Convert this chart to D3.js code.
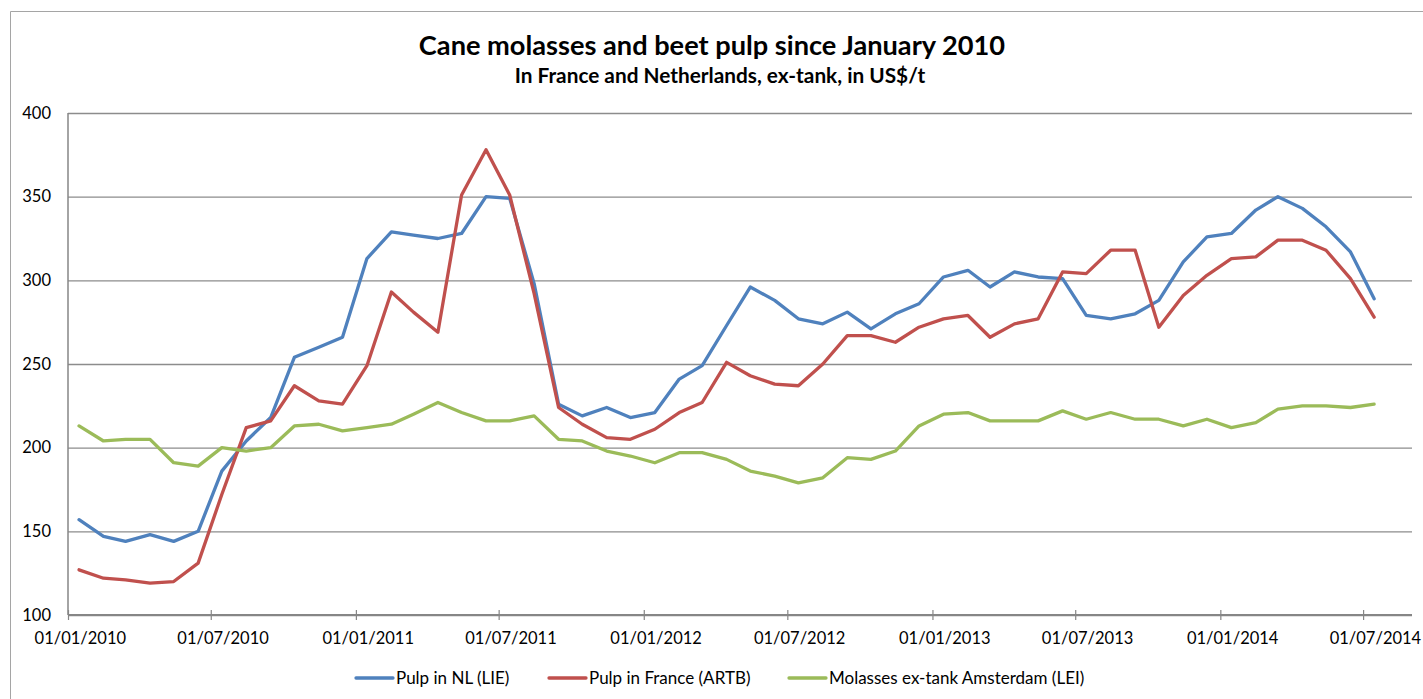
<!DOCTYPE html>
<html>
<head>
<meta charset="utf-8">
<script src="https://cdn.jsdelivr.net/npm/d3@7/dist/d3.min.js"></script>
<style>
  html, body { margin: 0; padding: 0; background: #ffffff; }
  svg { display: block; font-family: Lato, "Open Sans", sans-serif; }
</style>
</head>
<body>
<svg id="chart" width="1423" height="699"></svg>
<script>
// Monthly observations, January 2010 to July 2014 (plotted mid-month)
const months = [
  "2010-01","2010-02","2010-03","2010-04","2010-05","2010-06","2010-07","2010-08","2010-09","2010-10","2010-11","2010-12",
  "2011-01","2011-02","2011-03","2011-04","2011-05","2011-06","2011-07","2011-08","2011-09","2011-10","2011-11","2011-12",
  "2012-01","2012-02","2012-03","2012-04","2012-05","2012-06","2012-07","2012-08","2012-09","2012-10","2012-11","2012-12",
  "2013-01","2013-02","2013-03","2013-04","2013-05","2013-06","2013-07","2013-08","2013-09","2013-10","2013-11","2013-12",
  "2014-01","2014-02","2014-03","2014-04","2014-05","2014-06","2014-07"
];

// Pulp in NL (LIE), US$/t
const pulpNL = [
  157, 147, 144, 148, 144, 150, 186, 204, 218, 254, 260, 266,
  313, 329, 327, 325, 328, 350, 349, 298, 226, 219, 224, 218,
  221, 241, 249, 273, 296, 288, 277, 274, 281, 271, 280, 286,
  302, 306, 296, 305, 302, 301, 279, 277, 280, 288, 311, 326,
  328, 342, 350, 343, 332, 317, 289
];

// Pulp in France (ARTB), US$/t
const pulpFR = [
  127, 122, 121, 119, 120, 131, 172, 212, 216, 237, 228, 226,
  249, 293, 281, 269, 351, 378, 351, 292, 224, 214, 206, 205,
  211, 221, 227, 251, 243, 238, 237, 250, 267, 267, 263, 272,
  277, 279, 266, 274, 277, 305, 304, 318, 318, 272, 291, 303,
  313, 314, 324, 324, 318, 301, 278
];

// Molasses ex-tank Amsterdam (LEI), US$/t
const molasses = [
  213, 204, 205, 205, 191, 189, 200, 198, 200, 213, 214, 210,
  212, 214, 220, 227, 221, 216, 216, 219, 205, 204, 198, 195,
  191, 197, 197, 193, 186, 183, 179, 182, 194, 193, 198, 213,
  220, 221, 216, 216, 216, 222, 217, 221, 217, 217, 213, 217,
  212, 215, 223, 225, 225, 224, 226
];

const seriesNames = ["Pulp in NL (LIE)", "Pulp in France (ARTB)", "Molasses ex-tank Amsterdam (LEI)"];
const seriesColors = ["#4F81BD", "#C0504D", "#9BBB59"];
const yTicks = [100, 150, 200, 250, 300, 350, 400];
const axisStart = "2010-01-01";
const axisEnd = "2014-09-01";
const titleText = "Cane molasses and beet pulp since January 2010";
const subtitleText = "In France and Netherlands, ex-tank, in US$/t";

const svg = d3.select("#chart");
const W = 1423, H = 699;
const plot = { left: 68, right: 1412, top: 113, bottom: 615 };

const parseMonth = d3.timeParse("%Y-%m");
const parseDay = d3.timeParse("%Y-%m-%d");
const dates = months.map(m => d3.timeDay.offset(parseMonth(m), 14));

const x = d3.scaleTime()
  .domain([parseDay(axisStart), parseDay(axisEnd)])
  .range([plot.left, plot.right]);
const y = d3.scaleLinear()
  .domain([d3.min(yTicks), d3.max(yTicks)])
  .range([plot.bottom, plot.top]);

// Outer chart frame
svg.append("path")
  .attr("d", `M10.5,${H} V11.5 H${W}`)
  .attr("fill", "none")
  .attr("stroke", "#a5a5a5")
  .attr("stroke-width", 1);

// Titles
svg.append("text")
  .attr("x", 712).attr("y", 55)
  .attr("text-anchor", "middle")
  .attr("font-weight", "bold")
  .attr("font-size", 27.2)
  .attr("fill", "#000")
  .text(titleText);
svg.append("text")
  .attr("x", 720).attr("y", 83)
  .attr("text-anchor", "middle")
  .attr("font-weight", "bold")
  .attr("font-size", 20.8)
  .attr("fill", "#000")
  .text(subtitleText);

// Horizontal gridlines and y labels
const yAxis = d3.axisLeft(y).tickValues(yTicks).tickSize(-(plot.right - plot.left)).tickPadding(17);
const gy = svg.append("g")
  .attr("transform", `translate(${plot.left},0)`)
  .call(yAxis);
gy.select(".domain").remove();
gy.selectAll(".tick line").attr("stroke", "#8c8c8c").attr("stroke-width", 1.3);
gy.selectAll(".tick text")
  .attr("font-family", "Lato, sans-serif")
  .attr("font-size", 16.5)
  .attr("fill", "#000");

// Left axis line
svg.append("line")
  .attr("x1", plot.left).attr("x2", plot.left)
  .attr("y1", plot.top).attr("y2", plot.bottom)
  .attr("stroke", "#868686").attr("stroke-width", 1.5);

// Bottom date axis with crossing ticks; labels sit half a month right of each tick
const xAxis = d3.axisBottom(x)
  .ticks(d3.timeMonth.every(6))
  .tickFormat(d3.timeFormat("%d/%m/%Y"))
  .tickSize(0)
  .tickPadding(17);
const gx = svg.append("g")
  .attr("transform", `translate(0,${plot.bottom})`)
  .call(xAxis);
gx.select(".domain")
  .attr("d", `M${plot.left},0H${plot.right}`)
  .attr("stroke", "#868686").attr("stroke-width", 2);
gx.selectAll(".tick").append("line")
  .attr("y1", -5).attr("y2", 5)
  .attr("stroke", "#868686").attr("stroke-width", 1.2);
gx.selectAll(".tick text")
  .attr("font-family", "Lato, sans-serif")
  .attr("font-size", 16.5)
  .attr("fill", "#000")
  .attr("dx", d => x(d3.timeDay.offset(d, 15)) - x(d));

// Series lines
const seriesValues = [pulpNL, pulpFR, molasses];
const line = d3.line()
  .x((d, i) => x(dates[i]))
  .y(d => y(d));
seriesValues.forEach((vals, k) => {
  svg.append("path")
    .datum(vals)
    .attr("fill", "none")
    .attr("stroke", seriesColors[k])
    .attr("stroke-width", 3.3)
    .attr("stroke-linejoin", "round")
    .attr("stroke-linecap", "round")
    .attr("d", line);
});

// Legend
const legendX = [356, 549, 789];
const legend = svg.append("g").attr("font-size", 17).attr("font-family", "Lato, sans-serif");
seriesNames.forEach((name, k) => {
  const g = legend.append("g").attr("transform", `translate(${legendX[k]},678)`);
  g.append("line")
    .attr("x1", 0).attr("x2", 37)
    .attr("stroke", seriesColors[k])
    .attr("stroke-width", 3.3)
    .attr("stroke-linecap", "round");
  g.append("text")
    .attr("x", 40).attr("y", 6)
    .attr("fill", "#000")
    .text(name);
});
</script>
</body>
</html>
